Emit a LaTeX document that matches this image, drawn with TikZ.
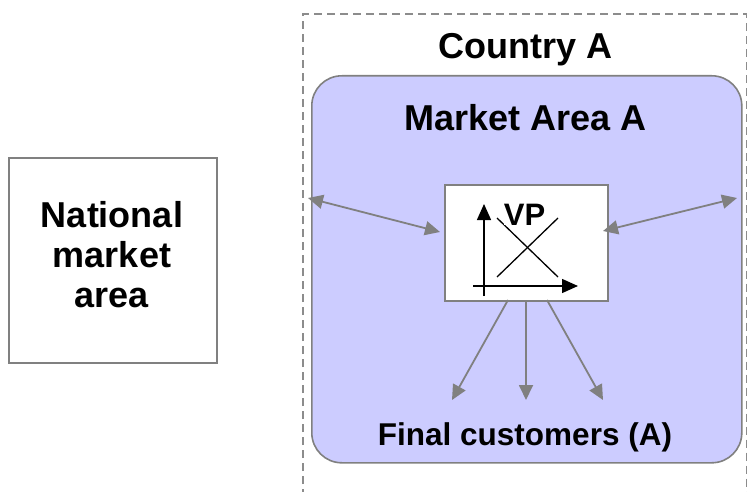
\documentclass[tikz,border=0pt]{standalone}
\usepackage{fontspec}
\setmainfont{Liberation Sans}
\usetikzlibrary{arrows.meta}
\definecolor{lav}{HTML}{CCCCFF}
\definecolor{bordergray}{HTML}{808080}
\definecolor{dashgray}{HTML}{8C8C8C}
\tikzset{
  boxline/.style={draw=bordergray, line width=1.6pt},
  flow/.style={draw=bordergray, line width=1.8pt, -{Triangle[length=15pt,width=14pt]}},
  flowboth/.style={draw=bordergray, line width=1.8pt, {Triangle[length=15pt,width=14pt]}-{Triangle[length=15pt,width=14pt]}},
  axis/.style={draw=black, line width=1.4pt, -{Triangle[length=16pt,width=14pt]}},
  curve/.style={draw=black, line width=1.3pt},
  bigtext/.style={font=\bfseries\fontsize{36}{40}\selectfont, inner sep=0pt},
  midtext/.style={font=\bfseries\fontsize{31.5}{36}\selectfont, inner sep=0pt},
}
\begin{document}
\begin{tikzpicture}[x=1pt,y=-1pt]
\useasboundingbox (0,0) rectangle (747,492);
% country dashed frame
\draw[dashgray, line width=1.5pt, dash pattern=on 8pt off 5pt] (303,497) -- (303,14) -- (746.5,14) -- (746.5,497);
\node[bigtext, anchor=base] (country) at (525.5,59) {Country A};
% market area
\node[boxline, fill=lav, rounded corners=30pt, minimum width=430pt, minimum height=387pt, anchor=north west, inner sep=0pt] (market) at (311,75) {};
\node[bigtext, anchor=base] (mkttitle) at (526,131) {Market Area A};
% national box
\node[boxline, fill=white, minimum width=208pt, minimum height=205pt, anchor=north west, inner sep=0pt] (nat) at (8,157) {};
\node[bigtext, align=center] (nattext) at (112,255) {National\\market\\area};
% VP box
\node[boxline, fill=white, minimum width=163pt, minimum height=116pt, anchor=north west, inner sep=0pt] (vp) at (444,184) {};
\coordinate (yaxb) at (484,296);
\coordinate (yaxt) at (484,204);
\coordinate (xaxl) at (473,286);
\coordinate (xaxr) at (578,286);
\draw[axis] (yaxb) -- (yaxt);
\draw[axis] (xaxl) -- (xaxr);
\coordinate (d1) at (497,218);
\coordinate (d2) at (558,277);
\coordinate (s1) at (497,277);
\coordinate (s2) at (558,218);
\draw[curve] (d1) -- (d2);
\draw[curve] (s1) -- (s2);
\node[font=\bfseries\fontsize{31}{36}\selectfont, inner sep=0pt, anchor=base, fill=white] (vplabel) at (524.5,225) {VP};
% double arrows
\coordinate (lend) at (308,198);
\coordinate (lvp) at (440,232);
\coordinate (rvp) at (603,231);
\coordinate (rend) at (737,198);
\draw[flowboth] (lend) -- (lvp);
\draw[flowboth] (rvp) -- (rend);
% down arrows
\coordinate (o1) at (508,300);
\coordinate (o2) at (526,300);
\coordinate (o3) at (547,300);
\coordinate (c1) at (452,400);
\coordinate (c2) at (526,400);
\coordinate (c3) at (603,400);
\draw[flow] (o1) -- (c1);
\draw[flow] (o2) -- (c2);
\draw[flow] (o3) -- (c3);
\node[midtext, anchor=base] (cust) at (525,445) {Final customers (A)};
\end{tikzpicture}
\end{document}
